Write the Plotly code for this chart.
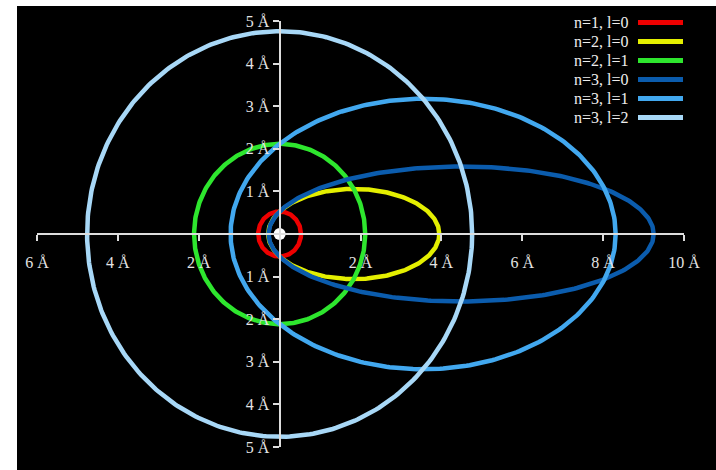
import numpy as np
import plotly.graph_objects as go

# Bohr–Sommerfeld orbits of hydrogen: principal (n) and azimuthal (l) quantum numbers
orbit_n = [1, 2, 2, 3, 3, 3]
orbit_l = [0, 0, 1, 0, 1, 2]
orbit_colors = ["#ee0000", "#e4ef00", "#2ee62e", "#0b5cad", "#42a8ef", "#a8d8f7"]
bohr_radius = 0.529  # Å

x_tickvals = [-6, -4, -2, 2, 4, 6, 8, 10]
y_tickvals = [-5, -4, -3, -2, -1, 1, 2, 3, 4, 5]

W, H = 716, 470
L, R, T, B = 37, 32, 21, 23
PW, PH = W - L - R, H - T - B

fig = go.Figure()

theta = np.linspace(0, 2 * np.pi, 361)
for n, l, col in zip(orbit_n, orbit_l, orbit_colors):
    a = n * n * bohr_radius          # semi-major axis
    b = a * (l + 1) / n              # semi-minor axis
    c = np.sqrt(max(a * a - b * b, 0.0))  # nucleus sits at one focus
    fig.add_trace(go.Scatter(
        x=c + a * np.cos(theta), y=b * np.sin(theta),
        mode="lines", line=dict(color=col, width=4.5),
        name=f"n={n}, l={l}", showlegend=False, hoverinfo="skip",
    ))

# nucleus
fig.add_trace(go.Scatter(x=[0], y=[0], mode="markers",
                         marker=dict(color="white", size=12),
                         showlegend=False, hoverinfo="skip"))


def px_x(p):
    return (p - L) / PW


def px_y(p):
    return (H - B - p) / PH


shapes = [dict(type="rect", xref="paper", yref="paper",
               x0=px_x(17), x1=px_x(716), y0=px_y(470), y1=px_y(6),
               fillcolor="black", line=dict(width=0), layer="below")]
annotations = []

# legend: label on the left, colour swatch on the right
for i, (n, l, col) in enumerate(zip(orbit_n, orbit_l, orbit_colors)):
    yc = 22.5 + i * 19
    shapes.append(dict(type="line", xref="paper", yref="paper",
                       x0=px_x(638), x1=px_x(683), y0=px_y(yc), y1=px_y(yc),
                       line=dict(color=col, width=5)))
    annotations.append(dict(xref="paper", yref="paper", x=px_x(631), y=px_y(yc),
                            text=f"n={n}, l={l}", showarrow=False,
                            xanchor="right", yanchor="middle",
                            font=dict(family="Liberation Serif", size=16, color="#eeeeee")))

axis_font = dict(family="Liberation Serif", size=16, color="#e4e4e4")
fig.update_layout(
    width=W, height=H,
    margin=dict(l=L, r=R, t=T, b=B, pad=0),
    paper_bgcolor="white", plot_bgcolor="black",
    shapes=shapes, annotations=annotations,
    xaxis=dict(range=[-6, 10], anchor="free", position=0.5,
               showgrid=False, zeroline=False,
               showline=True, linecolor="#dddddd", linewidth=2,
               ticks="outside", ticklen=6, tickwidth=1.5, tickcolor="#dddddd",
               tickvals=x_tickvals, ticktext=[f"{abs(v)} Å" for v in x_tickvals],
               ticklabelstandoff=8, tickfont=axis_font),
    yaxis=dict(range=[-5, 5], anchor="free", position=0.375,
               showgrid=False, zeroline=False,
               showline=True, linecolor="#dddddd", linewidth=2,
               ticks="outside", ticklen=6, tickwidth=1.5, tickcolor="#dddddd",
               tickvals=y_tickvals, ticktext=[f"{abs(v)} Å" for v in y_tickvals],
               tickfont=axis_font),
    showlegend=False,
)

fig.write_html("out.html")
